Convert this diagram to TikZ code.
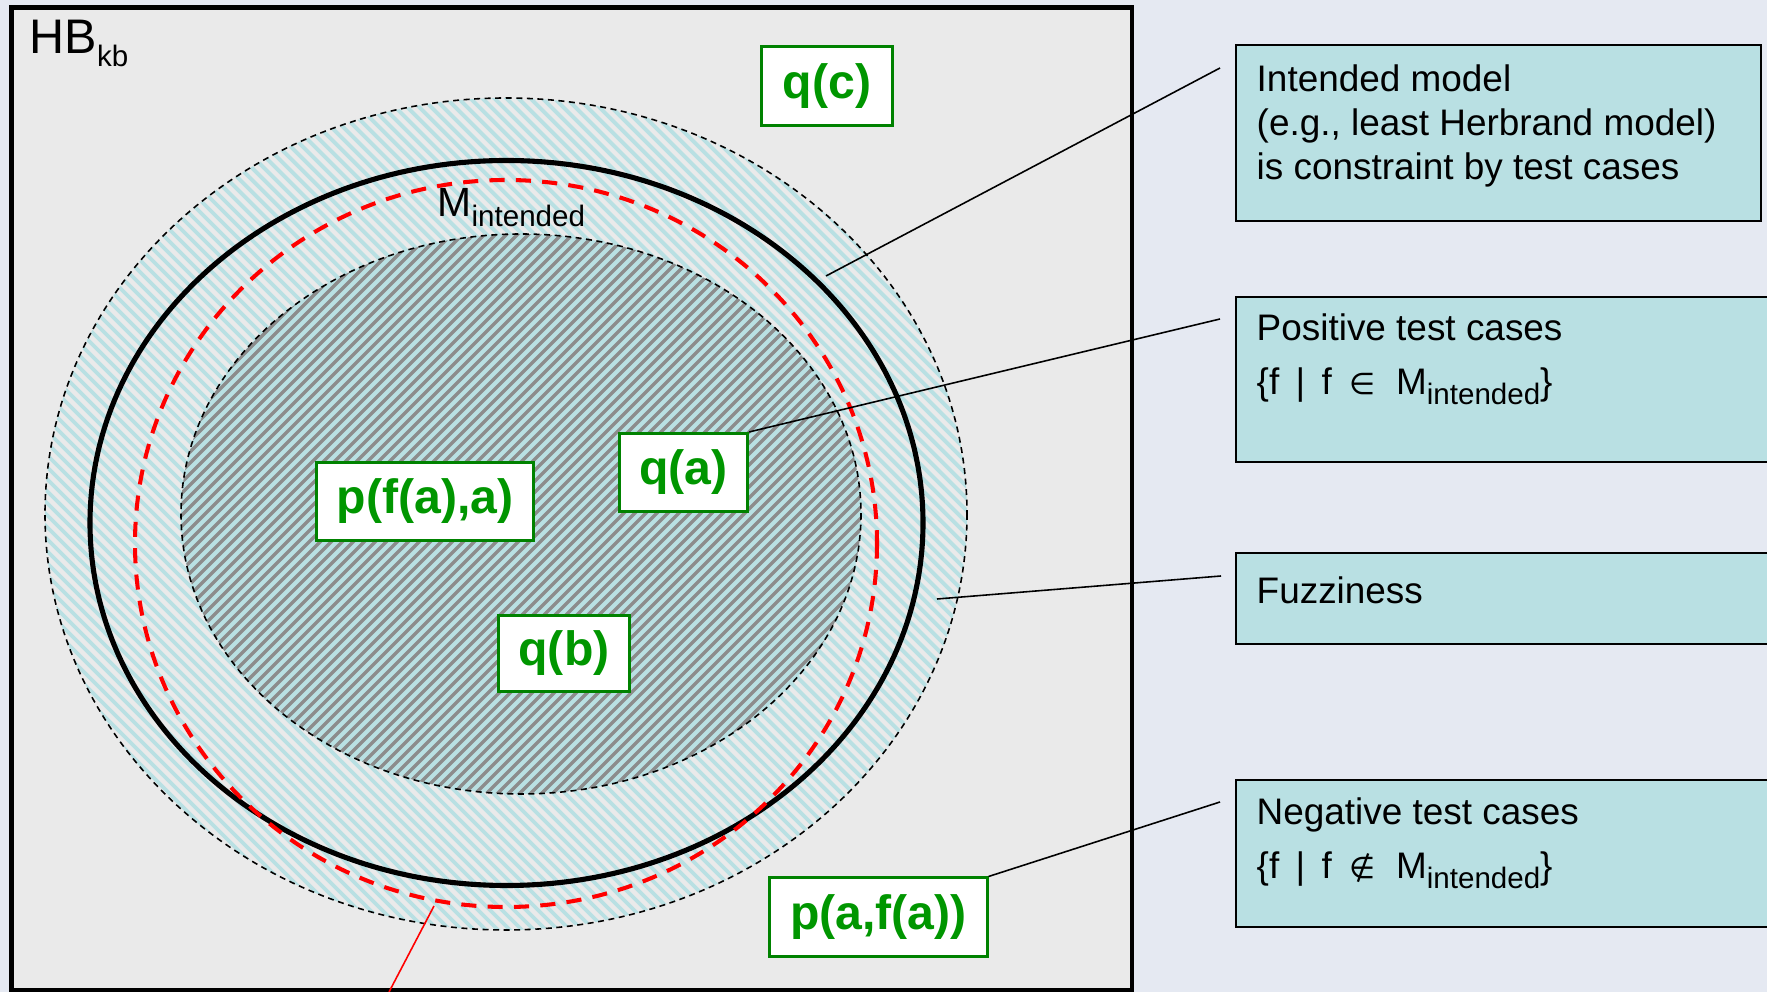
\documentclass[tikz,border=0pt]{standalone}
\usepackage{fontspec}
\setmainfont{Liberation Sans}
\newfontfamily\relfont{DejaVu Sans}
\definecolor{pagebg}{RGB}{229,233,242}
\definecolor{hbgray}{RGB}{234,234,234}
\definecolor{boxcyan}{RGB}{185,224,227}
\definecolor{stripegray}{RGB}{140,140,140}
\definecolor{factline}{RGB}{0,130,0}
\definecolor{facttext}{RGB}{0,150,0}
\newcommand{\lowtxt}[3]{\raisebox{-#1}{\fontsize{#2}{#2}\selectfont #3}}
\newcommand{\rel}[1]{{\relfont\fontsize{8.5}{10}\selectfont #1}}

\begin{document}
\begin{tikzpicture}[x=0.01cm,y=-0.01cm,
  fact/.style={draw=factline,line width=0.85pt,fill=white,text=facttext,
    font=\fontsize{13.7}{16}\selectfont\bfseries,inner sep=0pt,minimum height=0.78cm},
  infobox/.style={draw=black,line width=0.5pt,fill=boxcyan,anchor=north west,inner sep=0pt},
  infotext/.style={anchor=north west,inner sep=0pt,align=left,font=\fontsize{10.5}{12.5}\selectfont},
  leader/.style={line width=0.45pt},
  thindash/.style={line width=0.45pt,dash pattern=on 1.7pt off 1.3pt}]
\useasboundingbox (0,0) rectangle (1767,992);
\fill[pagebg] (0,0) rectangle (1767,992);
\draw[line width=1.15pt,fill=hbgray] (11.5,7.5) rectangle (1132,990);

% fuzzy ring
\begin{scope}
\clip (506,514) ellipse [x radius=461,y radius=416];
\foreach \c in {-900,-888,...,900}
  \draw[boxcyan,line width=1.1pt] (\c,0) -- ++(1000,1000);
\end{scope}
% inner part
\begin{scope}
\clip (521,514) ellipse [x radius=340,y radius=280];
\fill[boxcyan] (150,200) rectangle (900,820);
\foreach \c in {400,411,...,1680}
  \draw[stripegray,line width=1pt] (\c,0) -- ++(-1000,1000);
\end{scope}
\draw[thindash] (506,514) ellipse [x radius=461,y radius=416];
\draw[thindash] (521,514) ellipse [x radius=340,y radius=280];
\draw[line width=1.45pt] (506.5,523) ellipse [x radius=416.5,y radius=362.5];
\draw[red,line width=1.15pt,dash pattern=on 4.3pt off 3.2pt] (506,543.5) ellipse [x radius=371,y radius=363.5];

\node[anchor=base west,inner sep=0pt,font=\fontsize{13.8}{16}\selectfont] (hb) at (29,54) {HB\lowtxt{3.6pt}{8.4}{kb}};
\node[anchor=base west,inner sep=0pt,font=\fontsize{11.6}{13}\selectfont] (mint) at (437,217) {M\lowtxt{2.8pt}{8.4}{intended}};

% facts
\node[fact,minimum width=1.31cm] (qc) at (827,86) {q(c)};
\node[fact,minimum width=1.28cm] (qa) at (683.5,472.5) {q(a)};
\node[fact,minimum width=2.16cm] (pfaa) at (425,501.5) {p(f(a),a)};
\node[fact,minimum width=1.31cm,minimum height=0.76cm] (qb) at (564,653.5) {q(b)};
\node[fact,minimum width=2.17cm] (pafa) at (878.5,917) {p(a,f(a))};

% explanations
\node[infobox,minimum width=5.25cm,minimum height=1.76cm] (box1) at (1235,44) {};
\node[infotext] at ([shift={(21,20)}]box1.north west) {Intended model\\(e.g., least Herbrand model)\\is constraint by test cases};
\node[infobox,minimum width=5.6cm,minimum height=1.65cm] (box2) at (1235,296) {};
\node[infotext] at ([shift={(21,17)}]box2.north west) {Positive test cases\\[3pt]\{f\,\ |\,\ f\hspace{2pt} \rel{∈}\hspace{3pt} M\lowtxt{2.6pt}{8.4}{intended}\}};
\node[infobox,minimum width=5.6cm,minimum height=0.91cm] (box3) at (1235,552) {};
\node[infotext] at ([shift={(21,24)}]box3.north west) {Fuzziness};
\node[infobox,minimum width=5.6cm,minimum height=1.47cm] (box4) at (1235,779) {};
\node[infotext] at ([shift={(21,18)}]box4.north west) {Negative test cases\\[3pt]\{f\,\ |\,\ f\hspace{2pt} \rel{∉}\hspace{3pt} M\lowtxt{2.6pt}{8.4}{intended}\}};

\coordinate (modelpt) at (826,276);
\coordinate (fuzzpt) at (937,599);
\coordinate (redpt) at (434,906);
\coordinate (redend) at (389,992);
\coordinate (tip1) at ([shift={(-15,24)}]box1.north west);
\coordinate (tip2) at ([shift={(-15,23)}]box2.north west);
\coordinate (tip3) at ([shift={(-14,24)}]box3.north west);
\coordinate (tip4) at ([shift={(-15,23)}]box4.north west);
\draw[leader] (modelpt) -- (tip1);
\draw[leader] (qa.north east) -- (tip2);
\draw[leader] (fuzzpt) -- (tip3);
\draw[leader] (pafa.north east) -- (tip4);
\draw[leader,red] (redpt) -- (redend);
\end{tikzpicture}
\end{document}
